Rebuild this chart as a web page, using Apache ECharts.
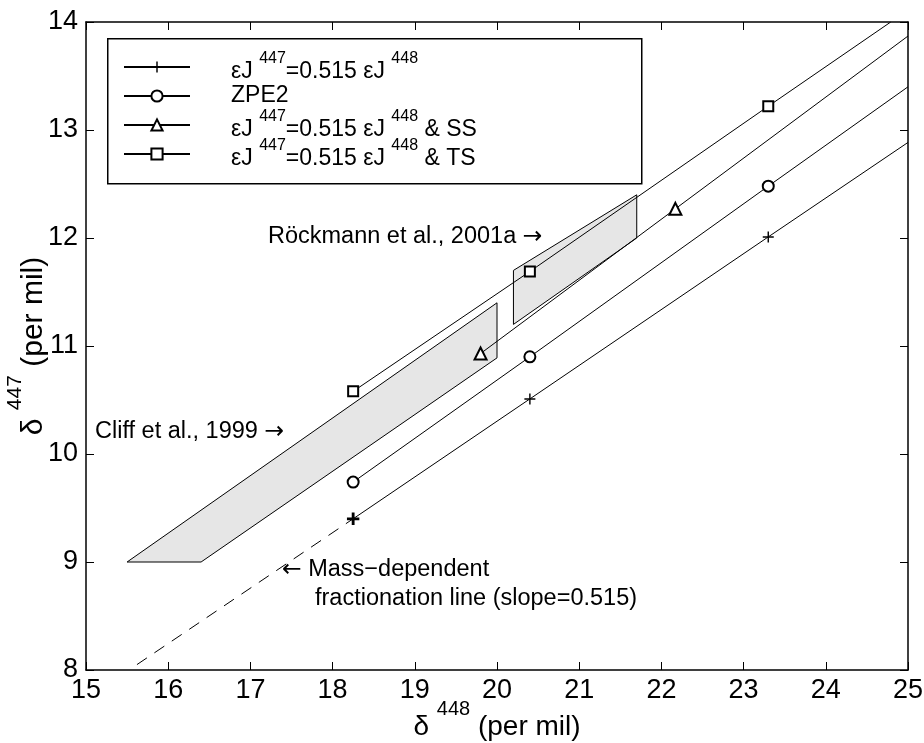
<!DOCTYPE html>
<html><head><meta charset="utf-8">
<script src="https://cdn.jsdelivr.net/npm/echarts@6/dist/echarts.min.js"></script>
<style>html,body{margin:0;padding:0;background:#fff}#c{width:924px;height:743px}</style>
</head><body><div id="c"></div>
<script>
// ---- data ----
const xMin = 15, xMax = 25, yMin = 8, yMax = 14;
const seriesNames = ['εJ447=0.515 εJ448', 'ZPE2', 'εJ447=0.515 εJ448 & SS', 'εJ447=0.515 εJ448 & TS'];
const plusPts = [[18.25, 9.40], [20.4, 10.51], [23.3, 12.01]];
const plusEnd = [25, 12.885];
const zpePts = [[18.25, 9.74], [20.4, 10.90], [23.3, 12.48]];
const zpeEnd = [25, 13.40];
const ssPts = [[19.8, 10.93], [22.17, 12.27]];
const ssEnd = [25, 13.87];
const tsPts = [[18.25, 10.58], [20.4, 11.69], [23.3, 13.22]];
const tsEnd = [24.79, 14.0];
const massDepLine = [[15.62, 8.05], [18.25, 9.40]];
const cliffPoly = [[15.5, 9.0], [16.4, 9.0], [20.0, 10.89], [20.0, 11.4]];
const rockPoly = [[20.2, 11.2], [21.7, 12.0], [21.7, 12.4], [20.2, 11.7]];
const annotations = [
  { text: '{t|Röckmann et al., 2001a }{r|→}', x: 268, y: 237 },
  { text: '{t|Cliff et al., 1999 }{r|→}', x: 95, y: 432 },
  { text: '{r|←}{t| Mass−dependent}', x: 282, y: 570 },
  { text: '{t|fractionation line (slope=0.515)}', x: 315, y: 599 }
];

// ---- styling helpers ----
const FONT = 'Liberation Sans';
const PLUS = 'path://M4.35,0H5.65V10H4.35ZM0,4.35H10V5.65H0Z';
const symbols = [PLUS, 'emptyCircle', 'emptyTriangle', 'emptyRect'];
const symSizes = [11, 11, 12, 10];

const legendRich = {};
legendRich[seriesNames[0]] = '{a|εJ }{s|447}{a|=0.515 εJ }{s|448}';
legendRich[seriesNames[1]] = '{c|ZPE2}';
legendRich[seriesNames[2]] = '{a|εJ }{s|447}{a|=0.515 εJ }{s|448}{a| & SS}';
legendRich[seriesNames[3]] = '{a|εJ }{s|447}{a|=0.515 εJ }{s|448}{a| & TS}';

function lineData(pts, end, bold) {
  const d = pts.map((p, i) => i === 0
    ? { value: p, itemStyle: { borderWidth: bold } }
    : { value: p });
  d.push({ value: end, symbol: 'none' });
  return d;
}

function polyRender(poly) {
  return function (params, api) {
    if (params.dataIndex !== 0) return;
    return {
      type: 'polygon',
      shape: { points: poly.map(p => api.coord(p)) },
      style: { fill: '#e6e6e6', stroke: '#000', lineWidth: 1 }
    };
  };
}

const lineSets = [[plusPts, plusEnd, 1.4], [zpePts, zpeEnd, 2.6], [ssPts, ssEnd, 3.2], [tsPts, tsEnd, 2.6]];
const series = [
  { type: 'custom', renderItem: polyRender(cliffPoly), data: [cliffPoly[0]], z: 1, silent: true },
  { type: 'custom', renderItem: polyRender(rockPoly), data: [rockPoly[0]], z: 1, silent: true },
  { type: 'line', data: massDepLine, symbol: 'none', z: 2, silent: true,
    lineStyle: { color: '#000', width: 1, type: [12, 9] } }
];
lineSets.forEach((s, i) => {
  series.push({
    type: 'line', name: seriesNames[i], data: lineData(s[0], s[1], s[2]),
    symbol: symbols[i], symbolSize: symSizes[i], showAllSymbol: true, z: 3,
    lineStyle: { color: '#000', width: 1 },
    itemStyle: { color: '#000', borderColor: '#000', borderWidth: i === 0 ? 0 : 1 },
    emphasis: { disabled: true }, animation: false
  });
});

const axisCommon = {
  type: 'value', splitLine: { show: false },
  axisLine: { show: true, onZero: false, lineStyle: { color: '#000', width: 1.5 } },
  axisTick: { show: true, inside: true, length: 8, lineStyle: { color: '#000', width: 1 } }
};
const labelStyle = { color: '#000', fontSize: 27, fontFamily: FONT };
const xNameRich = {
  d: { fontSize: 28, fontFamily: FONT, color: '#000', lineHeight: 30, verticalAlign: 'bottom' },
  s: { fontSize: 20, fontFamily: FONT, color: '#000', padding: [0, 0, 22, 0], verticalAlign: 'top' }
};
const yNameRich = {
  d: { fontSize: 30, fontFamily: FONT, color: '#000', lineHeight: 32, verticalAlign: 'bottom' },
  s: { fontSize: 21, fontFamily: FONT, color: '#000', padding: [0, 0, 23, 0], verticalAlign: 'top' }
};

const option = {
  animation: false,
  backgroundColor: '#fff',
  grid: { left: 86, right: 16, top: 22, bottom: 73, containLabel: false, outerBoundsMode: 'none' },
  xAxis: [
    Object.assign({}, axisCommon, { min: xMin, max: xMax, interval: 1, position: 'bottom',
      axisLabel: Object.assign({ margin: 7 }, labelStyle),
      name: '{d|δ }{s|448}{d| (per mil)}', nameLocation: 'middle', nameGap: 29, nameMoveOverlap: false,
      nameTextStyle: { rich: xNameRich } }),
    Object.assign({}, axisCommon, { min: xMin, max: xMax, interval: 1, position: 'top',
      axisLabel: { show: false } })
  ],
  yAxis: [
    Object.assign({}, axisCommon, { min: yMin, max: yMax, interval: 1, position: 'left',
      axisLabel: Object.assign({ margin: 8 }, labelStyle),
      name: '{d|δ }{s|447}{d| (per mil)}', nameLocation: 'middle', nameGap: 37, nameRotate: 90,
      nameMoveOverlap: false,
      nameTextStyle: { rich: yNameRich } }),
    Object.assign({}, axisCommon, { min: yMin, max: yMax, interval: 1, position: 'right',
      axisLabel: { show: false } })
  ],
  legend: {
    data: seriesNames, orient: 'vertical', left: 123, top: 51, padding: 0,
    itemWidth: 66, itemHeight: 14, itemGap: -3, selectedMode: false, z: 10,
    formatter: name => legendRich[name],
    textStyle: {
      padding: [0, 0, 0, 36],
      rich: {
        a: { fontSize: 23, fontFamily: FONT, color: '#000', lineHeight: 25, verticalAlign: 'bottom' },
        c: { fontSize: 23, fontFamily: FONT, color: '#000', height: 32, lineHeight: 32, verticalAlign: 'middle' },
        s: { fontSize: 16, fontFamily: FONT, color: '#000', padding: [0, 0, 16, 0], verticalAlign: 'top' }
      }
    }
  },
  graphic: [
    { type: 'rect', left: 107, top: 38, z: 5, shape: { width: 534, height: 145 },
      style: { fill: '#fff', stroke: '#000', lineWidth: 1.5 } }
  ].concat(annotations.map(a => ({
    type: 'text', x: a.x, y: a.y, z: 6,
    style: { text: a.text, fill: '#000', verticalAlign: 'middle', align: 'left',
      rich: {
        t: { fontSize: 23.5, fontFamily: FONT, color: '#000' },
        r: { fontSize: 23.5, fontFamily: 'DejaVu Sans', color: '#000' }
      } }
  }))),
  series: series
};
const chart = echarts.init(document.getElementById('c'), null, { renderer: 'canvas' });
chart.setOption(option);
</script></body></html>
